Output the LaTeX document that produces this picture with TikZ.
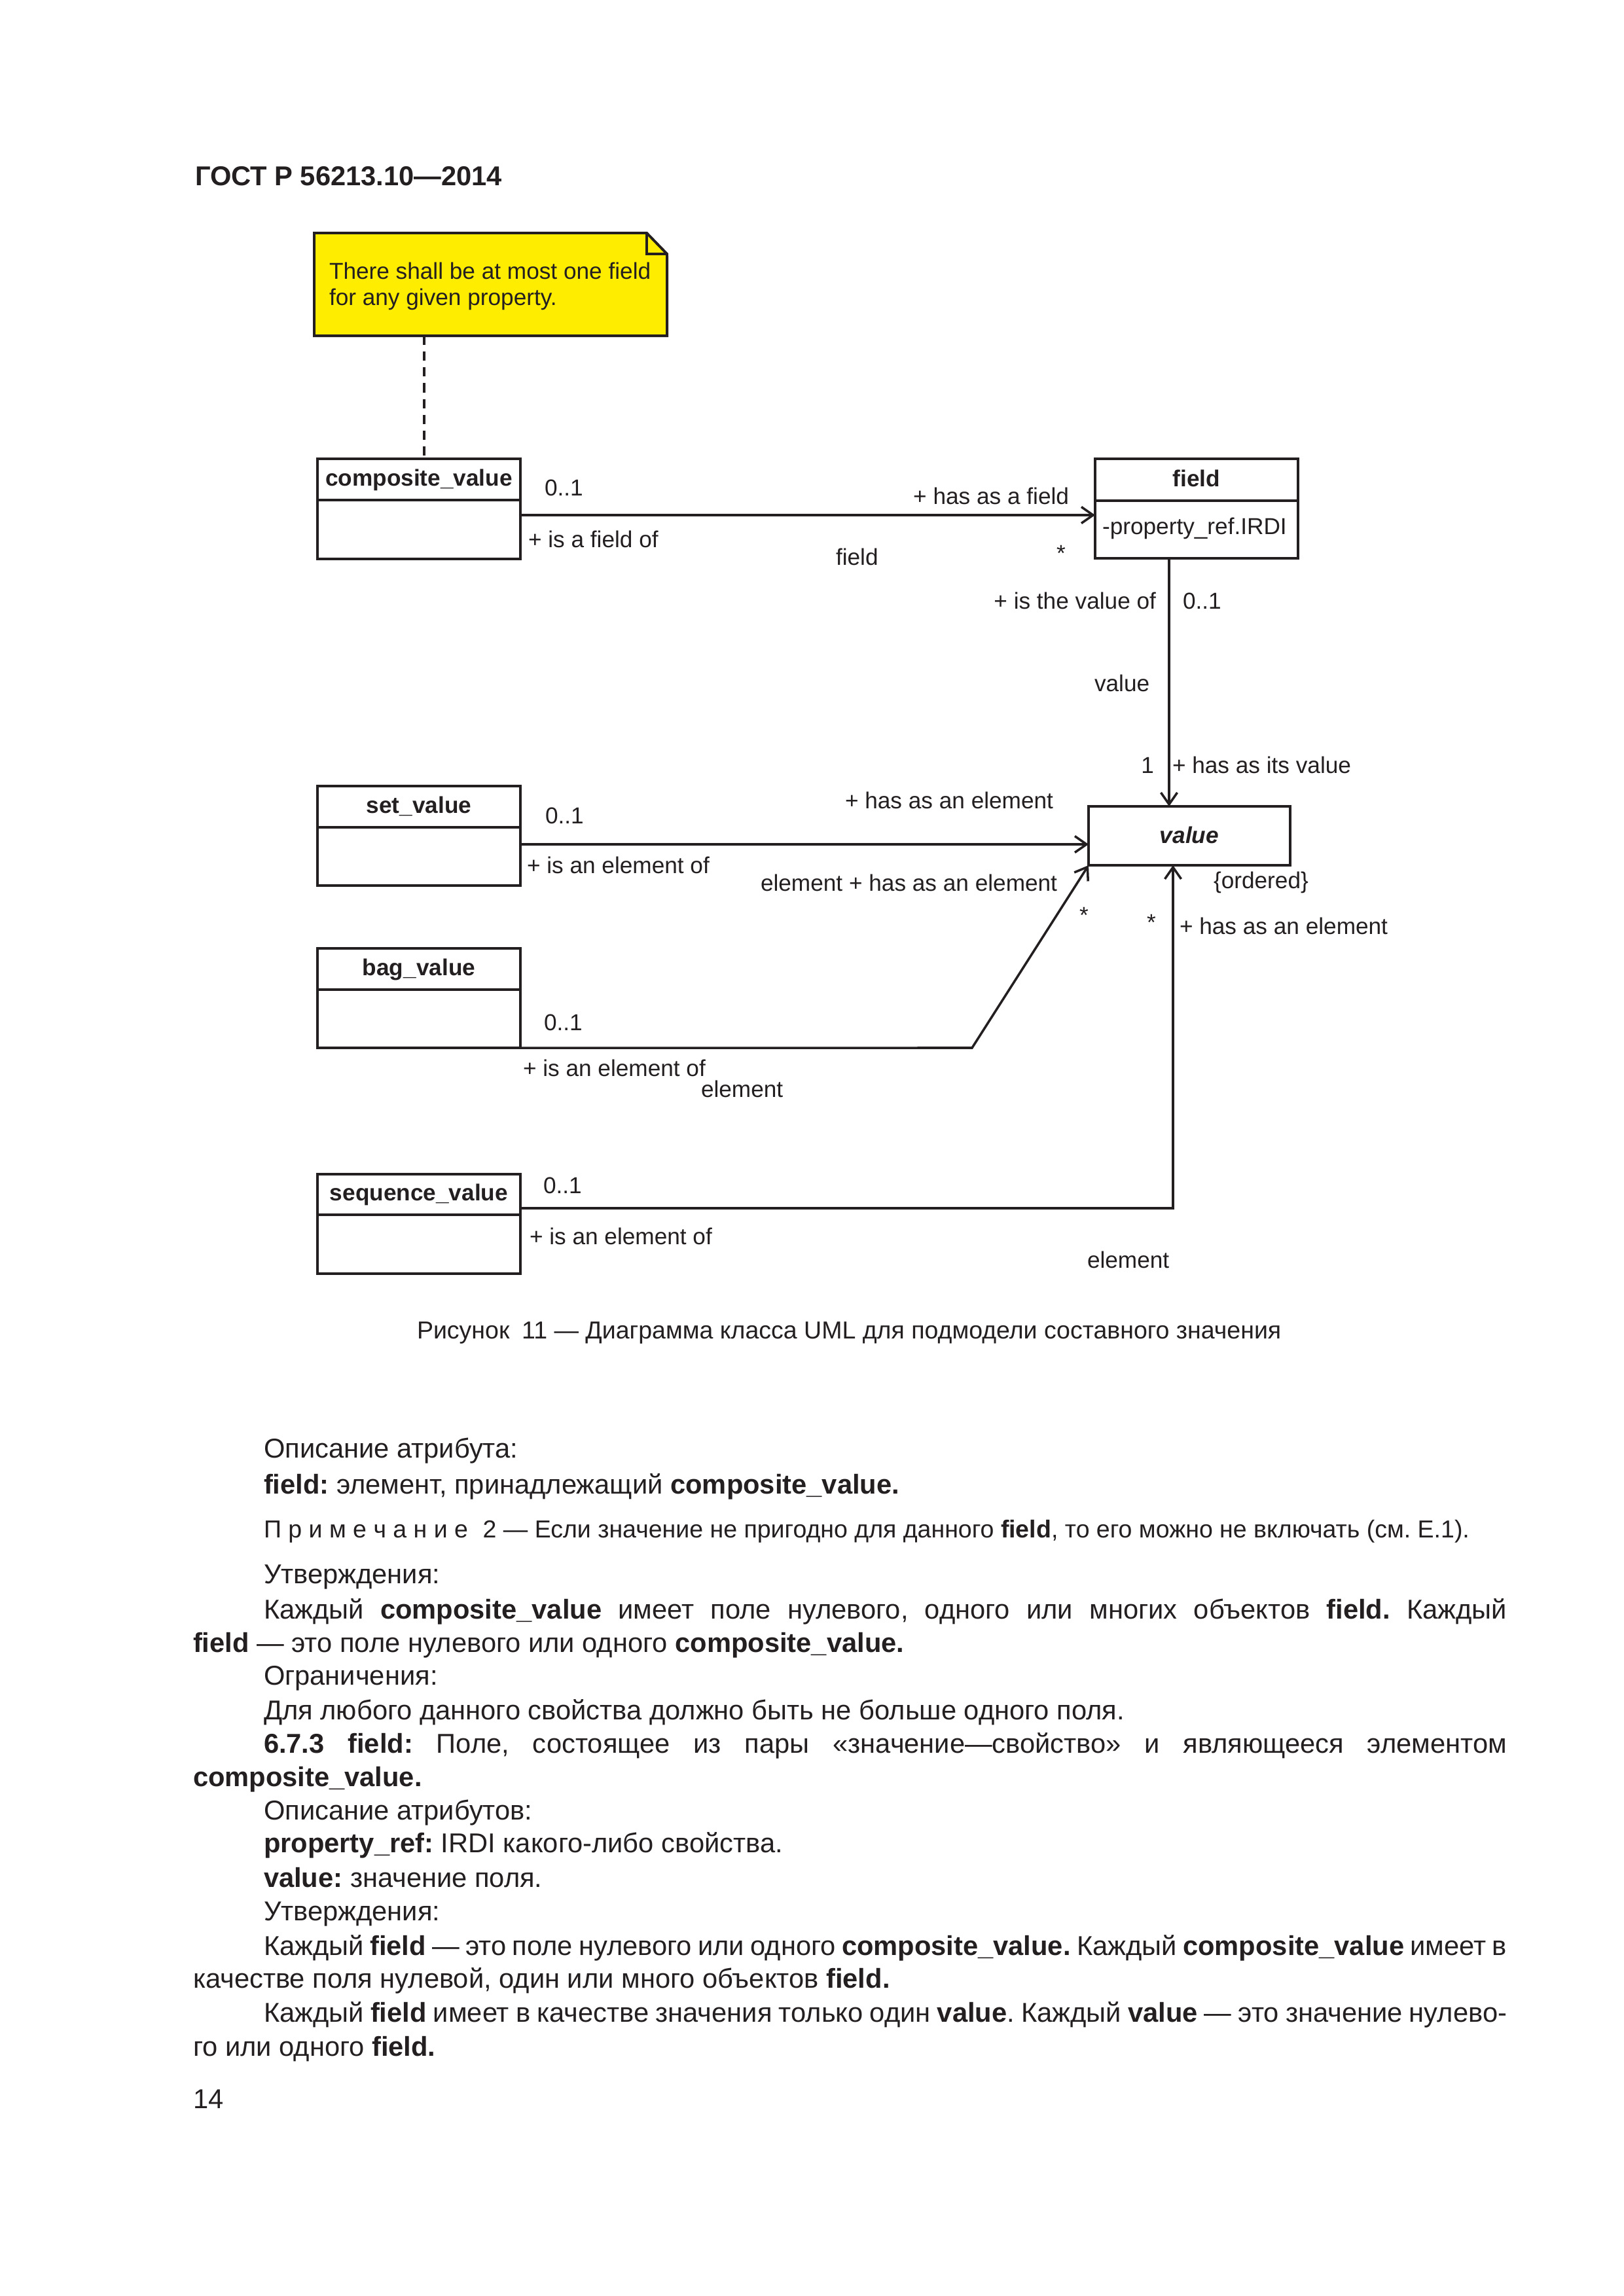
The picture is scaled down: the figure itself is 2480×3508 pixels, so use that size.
\documentclass[tikz,border=0pt]{standalone}
\usepackage{fontspec}
\setmainfont{Liberation Sans}
\usetikzlibrary{arrows.meta}
\definecolor{ink}{RGB}{35,31,32}
\definecolor{noteyellow}{RGB}{255,237,0}
\frenchspacing
\begin{document}
\begin{tikzpicture}[x=0.24pt,y=-0.24pt,
  every node/.style={inner sep=0pt, outer sep=0pt, text=ink},
  lbl/.style={font=\fontsize{8.45}{10}\selectfont},
  clsname/.style={draw=ink, line width=0.95pt, minimum width=74.4pt, minimum height=15.1pt,
     font=\fontsize{8.45}{10}\selectfont\bfseries, text height=6.3pt, text depth=1.7pt, anchor=north west},
  clsbody/.style={draw=ink, line width=0.95pt, minimum width=74.4pt, minimum height=21.4pt, anchor=north},
  assoc/.style={draw=ink, line width=0.85pt},
  nav/.style={assoc, -{Straight Barb[length=4.3pt,width=6pt,line width=0.85pt]}},
  notedash/.style={draw=ink, line width=0.75pt, dash pattern=on 3.4pt off 2.4pt},
  bodytext/.style={font=\fontsize{10}{12}\selectfont, anchor=base west},
  jline/.style={bodytext},
]
\useasboundingbox (0,0) rectangle (2480,3508);
\fill[white] (0,0) rectangle (2480,3508);

% header
\node[anchor=base west, font=\fontsize{10}{12}\selectfont\bfseries] (hdr) at (298,284) {ГОСТ Р 56213.10—2014};

% note
\node[anchor=north west, minimum width=129.4pt, minimum height=37.7pt] (note) at (480,356) {};
\draw[draw=ink, fill=noteyellow, line width=0.95pt, line join=miter]
  (note.north west) -- (988,356) -- (1019,388) -- (note.south east) -- (note.south west) -- cycle;
\draw[draw=ink, line width=0.95pt] (988,356) -- (988,388) -- (1019,388);
\node[lbl, anchor=base west] (notel1) at (503,427) {There shall be at most one field};
\node[lbl, anchor=base west] (notel2) at (503,467) {for any given property.};

% classes
\node[clsname] (cv) at (485,701) {composite\_value};
\node[clsbody, minimum height=21.6pt] (cvb) at (cv.south) {};
\node[clsname, minimum height=15.4pt, text height=6.7pt] (fld) at (1673,701) {field};
\node[clsbody, minimum height=21.1pt] (fldb) at (fld.south) {};
\node[lbl, anchor=base west] (fattr) at (1684,817) {-property\_ref.IRDI};
\node[clsname] (sv) at (485,1201) {set\_value};
\node[clsbody] (svb) at (sv.south) {};
\node[clsname] (bv) at (485,1449) {bag\_value};
\node[clsbody] (bvb) at (bv.south) {};
\node[clsname, minimum height=14.9pt] (sq) at (485,1794) {sequence\_value};
\node[clsbody, minimum height=21.6pt] (sqb) at (sq.south) {};
\node[draw=ink, line width=0.95pt, anchor=north west, minimum width=73.9pt, minimum height=21.6pt,
      font=\fontsize{8.45}{10}\selectfont\bfseries\itshape, text height=7pt, text depth=1.7pt] (val) at (1663,1232) {value};

% connectors
\coordinate (noteA) at (648,513);
\draw[notedash] (noteA) -- (noteA |- cv.north);
\coordinate (cvA) at (795,787);
\draw[nav] (cvA) -- (cvA -| fldb.west);
\coordinate (fvA) at (1786,853);
\draw[nav] (fvA) -- (fvA |- val.north);
\coordinate (svA) at (795,1290);
\draw[nav] (svA) -- (svA -| val.west);
\coordinate (bagK) at (1485,1601);
\draw[nav] (bvb.south east) -- (bagK) -- (val.south west);
\coordinate (sqA) at (795,1846);
\coordinate (sqK) at (1792,1846);
\draw[nav] (sqA) -- (sqK) -- (sqK |- val.south);

% association labels
\node[lbl, anchor=base west] (l1) at (832,758) {0..1};
\node[lbl, anchor=base west] (l2) at (807,837) {+ is a field of};
\node[lbl, anchor=base east] (l3) at (1633,771) {+ has as a field};
\node[lbl, anchor=base] (l4) at (1621,858) {*};
\node[lbl, anchor=base west] (l5) at (1277,864) {field};
\node[lbl, anchor=base east] (l6) at (1766,931) {+ is the value of};
\node[lbl, anchor=base west] (l7) at (1807,931) {0..1};
\node[lbl, anchor=base west] (l8) at (1672,1056) {value};
\node[lbl, anchor=base east] (l9) at (1763,1181) {1};
\node[lbl, anchor=base west] (l10) at (1791,1181) {+ has as its value};
\node[lbl, anchor=base west] (l11) at (1291,1235) {+ has as an element};
\node[lbl, anchor=base west] (l12) at (833,1258) {0..1};
\node[lbl, anchor=base west] (l13) at (805,1334) {+ is an element of};
\node[lbl, anchor=base west] (l14) at (1162,1361) {element + has as an element};
\node[lbl, anchor=base west] (l15) at (1854,1357) {\{ordered\}};
\node[lbl, anchor=base] (l16) at (1656,1410) {*};
\node[lbl, anchor=base] (l17) at (1759,1421) {*};
\node[lbl, anchor=base west] (l18) at (1802,1427) {+ has as an element};
\node[lbl, anchor=base west] (l19) at (831,1574) {0..1};
\node[lbl, anchor=base west] (l20) at (799,1644) {+ is an element of};
\node[lbl, anchor=base west] (l21) at (1071,1676) {element};
\node[lbl, anchor=base west] (l22) at (830,1823) {0..1};
\node[lbl, anchor=base west] (l23) at (809,1901) {+ is an element of};
\node[lbl, anchor=base west] (l24) at (1661,1937) {element};

% caption
\node[anchor=base west, font=\fontsize{9}{11}\selectfont] (cap) at (637,2045)
  {Рисунок\hspace{0.5em}11 — Диаграмма класса UML для подмодели составного значения};

% body text
\node[bodytext] (t1) at (403,2227) {Описание атрибута:};
\node[bodytext] (t2) at (403,2282) {\textbf{field:} элемент, принадлежащий \textbf{composite\_value.}};
\node[bodytext, font=\fontsize{9}{11}\selectfont] (t3) at (403,2349)
  {П р и м е ч а н и е\hspace{0.6em}2 — Если значение не пригодно для данного \textbf{field}, то его можно не включать (см. Е.1).};
\node[bodytext] (t4) at (403,2419) {Утверждения:};
\node[jline] (t5) at (403,2473) {\makebox[455.8pt][s]{Каждый \textbf{composite\_value} имеет поле нулевого, одного или многих объектов \textbf{field.} Каждый}};
\node[bodytext] (t6) at (295,2524) {\textbf{field} — это поле нулевого или одного \textbf{composite\_value.}};
\node[bodytext] (t7) at (403,2574) {Ограничения:};
\node[bodytext] (t8) at (403,2627) {Для любого данного свойства должно быть не больше одного поля.};
\node[jline] (t9) at (403,2678) {\makebox[455.8pt][s]{\textbf{6.7.3 field:} Поле, состоящее из пары «значение—свойство» и являющееся элементом}};
\node[bodytext] (t10) at (295,2729) {\textbf{composite\_value.}};
\node[bodytext] (t11) at (403,2780) {Описание атрибутов:};
\node[bodytext] (t12) at (403,2830) {\textbf{property\_ref:} IRDI какого-либо свойства.};
\node[bodytext] (t13) at (403,2883) {\textbf{value:} значение поля.};
\node[bodytext] (t14) at (403,2934) {Утверждения:};
\node[jline] (t15) at (403,2987) {\makebox[455.8pt][s]{Каждый \textbf{field} — это поле нулевого или одного \textbf{composite\_value.} Каждый \textbf{composite\_value} имеет в}};
\node[bodytext] (t16) at (295,3037) {качестве поля нулевой, один или много объектов \textbf{field.}};
\node[jline] (t17) at (403,3089) {\makebox[455.8pt][s]{Каждый \textbf{field} имеет в качестве значения только один \textbf{value}. Каждый \textbf{value} — это значение нулево-}};
\node[bodytext] (t18) at (295,3141) {го или одного \textbf{field.}};
\node[bodytext] (t19) at (295,3221) {14};
\end{tikzpicture}
\end{document}
